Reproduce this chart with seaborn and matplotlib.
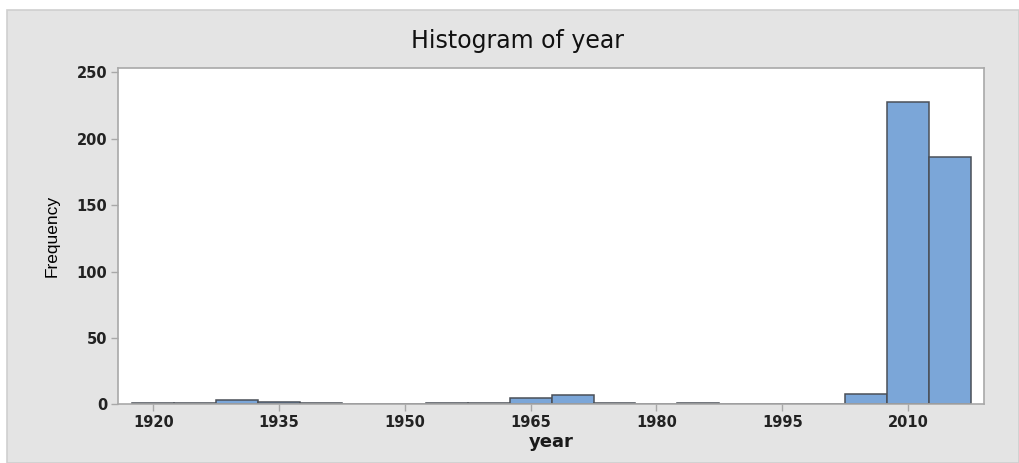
import numpy as np
import pandas as pd
import matplotlib
matplotlib.use("Agg")
import matplotlib.pyplot as plt
from matplotlib.patches import Rectangle
import seaborn as sns

# Bin centres (5-year bins) and their frequencies
bin_centers = [1920, 1925, 1930, 1935, 1940, 1945, 1950, 1955, 1960, 1965,
               1970, 1975, 1980, 1985, 1990, 1995, 2000, 2005, 2010, 2015]
frequencies = [1, 1, 3, 2, 1, 0, 0, 1, 1, 5,
               7, 1, 0, 1, 0, 0, 0, 8, 228, 186]
x_ticks = [1920, 1935, 1950, 1965, 1980, 1995, 2010]
y_ticks = [0, 50, 100, 150, 200, 250]

df = pd.DataFrame({"year": bin_centers, "count": frequencies})

sns.set_style("white")
W, H = 1019, 463
fig = plt.figure(figsize=(W / 100, H / 100), dpi=100)
fig.patch.set_facecolor("white")

# grey panel background
fig.patches.append(Rectangle((7 / W, 0), 1 - 7 / W, 1 - 10 / H, transform=fig.transFigure,
                             facecolor="#E4E4E4", edgecolor="#CFCFCF", linewidth=1.2, zorder=-10))

ax = fig.add_axes([118.3 / W, 1 - 404.3 / H, (984 - 118.3) / W, (404.3 - 67.7) / H])
ax.set_facecolor("white")
ax.set_zorder(1)

sns.histplot(data=df, x="year", weights="count", binwidth=5, binrange=(1917.5, 2017.5),
             ax=ax, color="#7BA6D8", alpha=1, edgecolor="#4A4F57", linewidth=1.1)

ax.set_xlim(1915.84, 2019.06)
ax.set_ylim(0, 253.5)
ax.set_xticks(x_ticks)
ax.set_yticks(y_ticks)
ax.set_xticklabels([str(t) for t in x_ticks], fontsize=10.5, fontweight="bold",
                   color="#222222", family="DejaVu Sans")
ax.set_yticklabels([str(t) for t in y_ticks], fontsize=10.5, fontweight="bold",
                   color="#222222", family="DejaVu Sans")
ax.tick_params(axis="both", which="both", direction="out", length=5, width=1,
               color="#A8A8A8", pad=3, bottom=True, left=True)

for s in ax.spines.values():
    s.set_visible(True)
    s.set_color("#A8A8A8")
    s.set_linewidth(1.2)

ax.set_xlabel("year", fontsize=13, fontweight="bold", color="#1A1A1A",
              family="DejaVu Sans", labelpad=2)
ax.set_ylabel("Frequency", fontsize=12.5, color="#000000",
              family=["Liberation Sans", "DejaVu Sans"], labelpad=12)

fig.text(517.5 / W, 1 - 48 / H, "Histogram of year", ha="center", va="baseline",
         fontsize=17, color="#111111", family="DejaVu Sans")

fig.savefig("out.png", dpi=100, facecolor=fig.get_facecolor())
